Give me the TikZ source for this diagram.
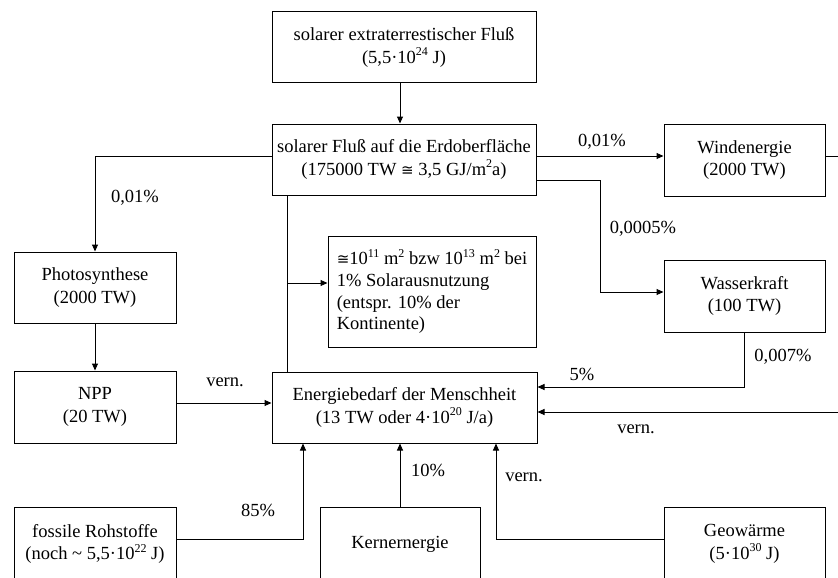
\documentclass[tikz,border=0pt]{standalone}
\usepackage{fontspec}
\setmainfont{Liberation Serif}
\newfontfamily\symfont{DejaVu Sans}
\usetikzlibrary{arrows.meta,calc}
\newcommand{\congsign}{{\symfont\fontsize{15}{15}\selectfont ≅}}
\newcommand{\hoch}[1]{\raisebox{0.42em}{\fontsize{12}{12}\selectfont #1}}
\tikzset{
  every node/.style={font=\fontsize{18.5}{22.5}\selectfont},
  box/.style={draw, line width=1pt, align=center, inner sep=0pt},
  arr/.style={-{Triangle[length=7pt,width=6pt]}, line width=1pt},
  ln/.style={line width=1pt},
  lbl/.style={inner sep=0pt}
}
\begin{document}
\begin{tikzpicture}[x=1pt,y=-1pt]
\clip (0,0) rectangle (838,578);

% boxes
\node[box, minimum width=264, minimum height=71] (ext) at (404,47.5)
  {solarer extraterrestischer Fluß\\(5,5·10\hoch{24} J)};
\node[box, minimum width=264, minimum height=71] (erd) at (404,159.5)
  {solarer Fluß auf die Erdoberfläche\\(175000 TW \congsign{} 3,5 GJ/m\hoch{2}a)};
\node[box, minimum width=161, minimum height=72] (wind) at (744.5,160)
  {Windenergie\\(2000 TW)};
\node[box, minimum width=161, minimum height=72] (wasser) at (744.5,296)
  {Wasserkraft\\(100 TW)};
\node[box, minimum width=162, minimum height=71] (photo) at (95,287.5)
  {Photosynthese\\(2000 TW)};
\node[box, minimum width=162, minimum height=72] (npp) at (95,407)
  {NPP\\(20 TW)};
\node[box, minimum width=208, minimum height=111, align=left, font=\fontsize{18.5}{21.7}\selectfont] (solar) at (432,291.5)
  {\congsign10\hoch{11} m\hoch{2} bzw 10\hoch{13} m\hoch{2} bei\\1\% Solarausnutzung\\(entspr. 10\% der\\Kontinente)};
\node[box, minimum width=265, minimum height=71] (energie) at (404.5,407.5)
  {Energiebedarf der Menschheit\\(13 TW oder 4·10\hoch{20} J/a)};
\node[box, minimum width=162, minimum height=74] (fossil) at (95,544)
  {fossile Rohstoffe\\(noch \textasciitilde{} 5,5·10\hoch{22} J)};
\node[box, minimum width=160, minimum height=74] (kern) at (400,544)
  {Kernernergie};
\node[box, minimum width=161, minimum height=74] (geo) at (744.5,544)
  {Geowärme\\(5·10\hoch{30} J)};

% free ends at the right border and bend points
\coordinate (windout) at (838,156);
\coordinate (vernin) at (838,412);
\coordinate (wbend) at (600,180);
\coordinate (nppout) at (176,403);
\coordinate (branch) at (287,283);

% connectors
\draw[arr] (ext.south -| 400,0) -- (erd.north -| 400,0);
\draw[arr] (erd.east |- windout) -- (wind.west |- windout);
\draw[ln] (wind.east |- windout) -- (windout);
\draw[arr] (erd.east |- wbend) -- (wbend) |- (wasser.west |- 0,292);
\draw[arr] (wasser.south -| 744,0) |- (energie.east |- 0,387);
\draw[arr] (vernin) -- (energie.east |- vernin);
\draw[arr] (erd.west |- 0,156) -| (photo.north);
\draw[arr] (photo.south) -- (npp.north);
\draw[arr] (npp.east |- nppout) -- (energie.west |- nppout);
\draw[ln] (erd.south -| branch) -- (energie.north -| branch);
\draw[arr] (branch) -- (solar.west |- branch);
\draw[arr] (fossil.east |- 0,539) -| (energie.south -| 303,0);
\draw[arr] (kern.north) -- (energie.south -| kern.north);
\draw[arr] (geo.west |- 0,539) -| (energie.south -| 496,0);

% labels
\node[lbl] (l1) at (602,142) {0,01\%};
\node[lbl] (l2) at (643,229) {0,0005\%};
\node[lbl] (l3) at (783,357) {0,007\%};
\node[lbl] (l4) at (582,374) {5\%};
\node[lbl] (l5) at (636,429) {vern.};
\node[lbl] (l6) at (135,198) {0,01\%};
\node[lbl] (l7) at (225,382) {vern.};
\node[lbl] (l8) at (258,510) {85\%};
\node[lbl] (l9) at (428,470) {10\%};
\node[lbl] (l10) at (524,477) {vern.};
\end{tikzpicture}
\end{document}
